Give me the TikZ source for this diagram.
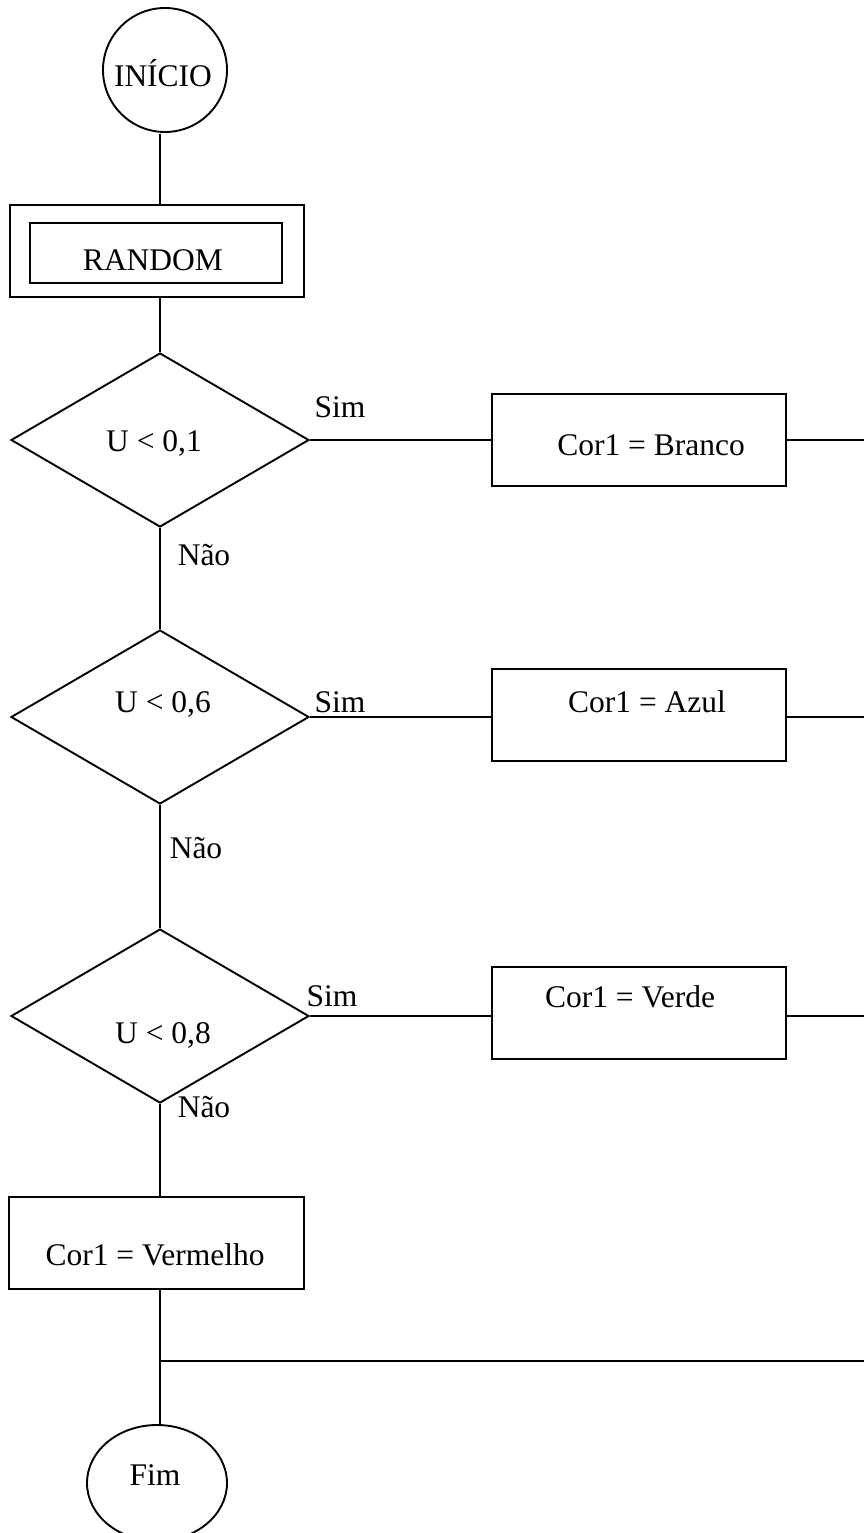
\documentclass[tikz,border=0pt]{standalone}
\usepackage{fontspec}
\setmainfont{Liberation Serif}
\usetikzlibrary{shapes.geometric}
\begin{document}
\begin{tikzpicture}[x=1pt,y=-1pt,
  flow/.style={draw, line width=1.9pt},
  term/.style={flow, circle, minimum size=124pt, inner sep=0pt},
  endterm/.style={flow, ellipse, minimum width=140pt, minimum height=116pt, inner sep=0pt},
  decision/.style={flow, diamond, minimum width=298pt, minimum height=174pt, inner sep=0pt},
  proc/.style={flow, rectangle, minimum width=294pt, minimum height=92pt, inner sep=0pt},
  lbl/.style={font=\fontsize{31.5}{36}\selectfont, anchor=base, inner sep=0pt}]
\useasboundingbox (0,0) rectangle (863,1533);

% shapes
\node[term] (inicio) at (165,70) {};
\node[proc] (rndout) at (157,251) {};
\node[flow, rectangle, minimum width=252pt, minimum height=60pt, inner sep=0pt] (rndin) at (156,253) {};
\node[decision] (d1) at (160,440) {};
\node[decision] (d2) at (160,717) {};
\node[decision] (d3) at (160,1016) {};
\node[proc] (b1) at (639,440) {};
\node[proc] (b2) at (639,715) {};
\node[proc] (b3) at (639,1013) {};
\node[proc, minimum width=295pt] (b4) at (156.5,1243) {};
\node[endterm] (fim) at (157,1483) {};

% junction and the line ends at the right margin
\coordinate (join) at (160,1361);
\coordinate (e1) at (864,440);
\coordinate (e2) at (864,717);
\coordinate (e3) at (864,1016);
\coordinate (e4) at (864,1361);

% texts
\node[lbl] (tinicio) at (163,87) {INÍCIO};
\node[lbl] (trnd) at (153,270) {RANDOM};
\node[lbl] (td1) at (154,451) {U < 0,1};
\node[lbl] (td2) at (163,712) {U < 0,6};
\node[lbl] (td3) at (163,1043) {U < 0,8};
\node[lbl] (sim1) at (340,417) {Sim};
\node[lbl] (sim2) at (340,712) {Sim};
\node[lbl] (sim3) at (332,1006) {Sim};
\node[lbl] (nao1) at (204,565) {Não};
\node[lbl] (nao2) at (196,858) {Não};
\node[lbl] (nao3) at (204,1117) {Não};
\node[lbl] (tb1) at (651,455) {Cor1 = Branco};
\node[lbl] (tb2) at (647,712) {Cor1 = Azul};
\node[lbl] (tb3) at (630,1007) {Cor1 = Verde};
\node[lbl] (tb4) at (155,1265) {Cor1 = Vermelho};
\node[lbl] (tfim) at (155,1485) {Fim};

% main flow
\draw[flow] ([yshift=-1pt]inicio.south -| d1.north) -- (rndout.north -| d1.north);
\draw[flow] (rndout.south -| d1.north) -- (d1.north);
\draw[flow] (d1.south) -- (d2.north);
\draw[flow] (d2.south) -- (d3.north);
\draw[flow] (d3.south) -- (d3.south |- b4.north);
\draw[flow] (b4.south -| join) -- (join) -- (join |- fim.north);
\draw[flow] (join) -- (e4);

% "Sim" branches
\draw[flow] (d1.east) -- (d1.east -| b1.west);
\draw[flow] (b1.east |- d1.east) -- (e1);
\draw[flow] (d2.east) -- (d2.east -| b2.west);
\draw[flow] (b2.east |- d2.east) -- (e2);
\draw[flow] (d3.east) -- (d3.east -| b3.west);
\draw[flow] (b3.east |- d3.east) -- (e3);
\end{tikzpicture}
\end{document}
